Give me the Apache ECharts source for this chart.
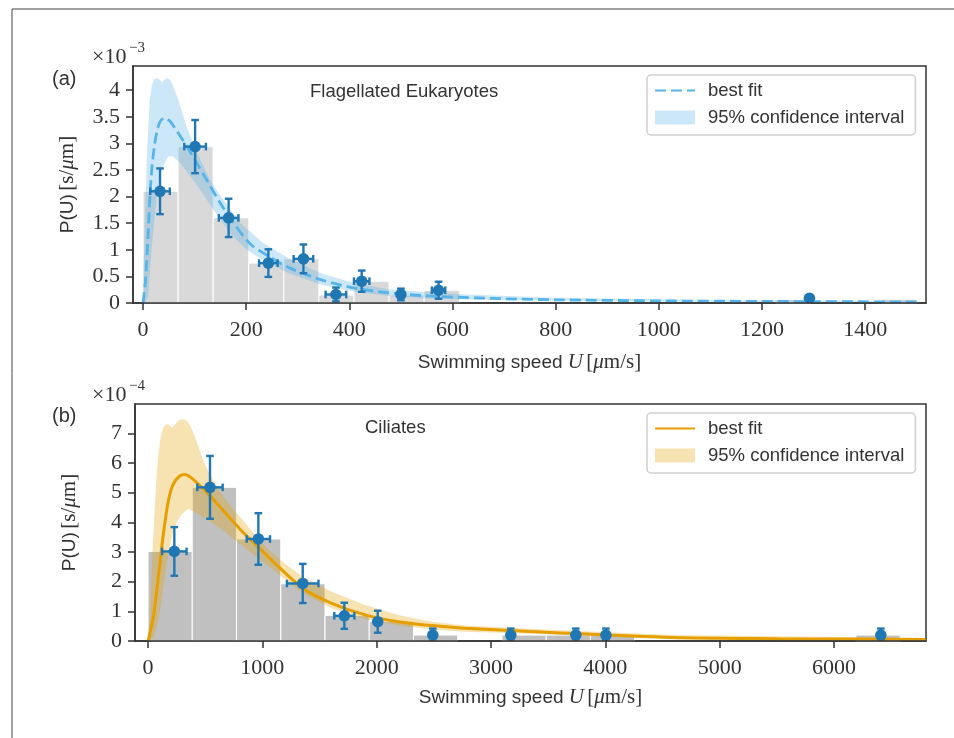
<!DOCTYPE html>
<html>
<head>
<meta charset="utf-8">
<script src="https://cdn.jsdelivr.net/npm/echarts@6.0.0/dist/echarts.min.js"></script>
<style>
  html, body { margin: 0; background: #fff; }
  #chart { width: 954px; height: 738px; }
</style>
</head>
<body>
<div id="chart"></div>
<script>
// (a) flagellated eukaryotes, P(U) in units of 1e-3 s/um
const binEdgesA = [0, 68, 136, 205, 273, 341, 409, 477, 545, 614, 682, 750, 818, 886, 955, 1023, 1091, 1159, 1227, 1295, 1364, 1432, 1500];
const binHeightsA = [2.10, 2.94, 1.60, 0.75, 0.83, 0.15, 0.41, 0.15, 0.24, 0, 0, 0, 0, 0, 0, 0, 0, 0, 0.07, 0, 0, 0.07];
const ptsXA = [33, 101, 166, 243, 311, 374, 424, 500, 573, 1292];
const ptsYA = [2.10, 2.94, 1.60, 0.75, 0.83, 0.16, 0.41, 0.16, 0.24, 0.09];
const ptsXErrA = [19, 21, 19, 18, 19, 20, 15, 0, 13, 0];
const ptsYErrA = [0.43, 0.50, 0.36, 0.26, 0.27, 0.13, 0.20, 0.11, 0.16, 0.04];
const fitXA = [0, 5, 10, 16, 23, 32, 42, 52, 61, 78, 100, 123, 149, 175, 207, 230, 282, 347, 411, 476, 540, 605, 700, 800, 1000, 1200, 1500];
const fitYA = [0, 0.45, 1.32, 2.39, 3.01, 3.39, 3.48, 3.42, 3.30, 3.05, 2.70, 2.32, 1.89, 1.51, 1.12, 0.96, 0.67, 0.43, 0.28, 0.19, 0.14, 0.11, 0.08, 0.06, 0.04, 0.03, 0.02];
const bandHiXA = [0, 3, 8, 13, 17, 21, 27, 32, 37, 42, 46, 52, 57, 68, 84, 103, 129, 155, 188, 233, 282, 347, 411, 476, 540, 605, 800, 1000, 1200, 1500];
const bandHiA = [0, 1.32, 2.89, 3.83, 4.08, 4.20, 4.23, 4.20, 4.15, 4.20, 4.23, 4.20, 4.11, 3.83, 3.33, 2.86, 2.33, 1.95, 1.51, 1.13, 0.84, 0.55, 0.37, 0.26, 0.21, 0.17, 0.10, 0.07, 0.05, 0.04];
const bandLoXA = [0, 5, 10, 16, 26, 36, 49, 58, 71, 91, 110, 136, 168, 200, 230, 282, 347, 411, 476, 540, 605, 800, 1000, 1200, 1500];
const bandLoA = [0, 0.02, 0.12, 0.95, 1.95, 2.51, 2.76, 2.76, 2.64, 2.39, 2.14, 1.76, 1.32, 1.01, 0.82, 0.56, 0.34, 0.21, 0.13, 0.09, 0.07, 0.04, 0.03, 0.02, 0.01];
const xTicksA = [0, 200, 400, 600, 800, 1000, 1200, 1400];
const yTicksA = [0, 0.5, 1, 1.5, 2, 2.5, 3, 3.5, 4];

// (b) ciliates, P(U) in units of 1e-4 s/um
const binEdgesB = [0, 387, 774, 1161, 1548, 1935, 2322, 2709, 3096, 3483, 3870, 4257, 4644, 5031, 5418, 5805, 6192, 6579];
const binHeightsB = [3.02, 5.18, 3.44, 1.93, 0.86, 0.67, 0.20, 0, 0.20, 0.20, 0.20, 0, 0, 0, 0, 0, 0.20];
const ptsXB = [230, 542, 965, 1353, 1717, 2009, 2491, 3173, 3742, 4005, 6410];
const ptsYB = [3.02, 5.18, 3.44, 1.94, 0.85, 0.65, 0.20, 0.20, 0.20, 0.20, 0.20];
const ptsXErrB = [107, 111, 102, 138, 88, 0, 0, 0, 0, 0, 0];
const ptsYErrB = [0.82, 1.06, 0.87, 0.66, 0.44, 0.37, 0.22, 0.22, 0.22, 0.22, 0.22];
const fitXB = [0, 46, 90, 134, 178, 221, 280, 324, 382, 455, 542, 659, 805, 951, 1067, 1353, 1607, 1899, 2190, 2482, 2773, 3561, 4582, 5500, 6800];
const fitYB = [0, 0.8, 2.15, 3.6, 4.73, 5.29, 5.57, 5.61, 5.49, 5.23, 4.9, 4.39, 3.77, 3.21, 2.78, 1.78, 1.27, 0.88, 0.65, 0.52, 0.43, 0.28, 0.12, 0.08, 0.05];
const bandHiXB = [0, 16, 32, 46, 61, 75, 90, 112, 134, 156, 178, 207, 230, 251, 276, 303, 328, 353, 380, 411, 445, 484, 525, 571, 625, 688, 760, 834, 905, 980, 1067, 1200, 1353, 1607, 1899, 2190, 2482, 2773, 3561, 4582, 6800];
const bandHiB = [0, 0.9, 2.37, 3.6, 4.62, 5.6, 6.3, 6.9, 7.2, 7.3, 7.31, 7.2, 7.28, 7.37, 7.45, 7.48, 7.45, 7.37, 7.18, 6.87, 6.5, 6.08, 5.75, 5.4, 5.05, 4.73, 4.38, 4.05, 3.72, 3.38, 3.04, 2.6, 2.17, 1.66, 1.21, 0.88, 0.65, 0.52, 0.37, 0.2, 0.1];
const bandLoXB = [0, 46, 75, 105, 134, 163, 192, 221, 258, 295, 353, 411, 513, 659, 805, 951, 1067, 1353, 1607, 1899, 2190, 2482, 2773, 3561, 4582, 6800];
const bandLoB = [0, 0.1, 0.45, 1.02, 1.8, 2.6, 3.25, 3.72, 4.05, 4.28, 4.45, 4.34, 4.11, 3.72, 3.27, 2.82, 2.48, 1.61, 1.1, 0.73, 0.52, 0.39, 0.31, 0.22, 0.06, 0.03];
const xTicksB = [0, 1000, 2000, 3000, 4000, 5000, 6000];
const yTicksB = [0, 1, 2, 3, 4, 5, 6, 7];

const POINT_COLOR = '#1f77b4';
const BLUE = '#56B4E9';
const ORANGE = '#E69F00';
const TEXT = '#333';

function pairs(xs, ys) {
  return xs.map((x, i) => [x, ys[i]]);
}

// histogram bars drawn as rectangles between bin edges
function histSeries(idx, edges, heights, color) {
  const data = [];
  heights.forEach((h, i) => {
    if (h > 0) data.push([edges[i], edges[i + 1], h]);
  });
  return {
    type: 'custom', xAxisIndex: idx, yAxisIndex: idx, z: 1, silent: true,
    data: data,
    renderItem: function (params, api) {
      const p0 = api.coord([api.value(0), api.value(2)]);
      const p1 = api.coord([api.value(1), 0]);
      return {
        type: 'rect',
        shape: { x: p0[0], y: p0[1], width: p1[0] - p0[0], height: p1[1] - p0[1] },
        style: { fill: color, stroke: '#fff', lineWidth: 1 }
      };
    }
  };
}

// confidence band as one polygon: upper edge forwards, lower edge backwards
function bandSeries(name, idx, hx, hy, lx, ly, color) {
  return {
    type: 'custom', name: name, xAxisIndex: idx, yAxisIndex: idx, z: 2, silent: true, clip: true,
    itemStyle: { color: color },
    data: [[0, 0]],
    renderItem: function (params, api) {
      const pts = [];
      hx.forEach((x, i) => pts.push(api.coord([x, hy[i]])));
      for (let i = lx.length - 1; i >= 0; i--) pts.push(api.coord([lx[i], ly[i]]));
      return { type: 'polygon', shape: { points: pts }, style: { fill: color } };
    }
  };
}

function errSeries(idx, xs, ys, xe, ye) {
  return {
    type: 'custom', xAxisIndex: idx, yAxisIndex: idx, z: 4, silent: true, clip: true,
    data: xs.map((x, i) => [x, ys[i], xe[i], ye[i]]),
    renderItem: function (params, api) {
      const x = api.value(0), y = api.value(1), dx = api.value(2), dy = api.value(3);
      const c = api.coord([x, y]);
      const t = api.coord([x, y + dy]);
      const b = api.coord([x, y - dy]);
      const st = { stroke: POINT_COLOR, lineWidth: 2.4 };
      const cap = 3.8;
      const kids = [
        { type: 'line', shape: { x1: c[0], y1: t[1], x2: c[0], y2: b[1] }, style: st },
        { type: 'line', shape: { x1: c[0] - cap, y1: t[1], x2: c[0] + cap, y2: t[1] }, style: st },
        { type: 'line', shape: { x1: c[0] - cap, y1: b[1], x2: c[0] + cap, y2: b[1] }, style: st }
      ];
      if (dx > 0) {
        const l = api.coord([x - dx, y]);
        const r = api.coord([x + dx, y]);
        kids.push({ type: 'line', shape: { x1: l[0], y1: c[1], x2: r[0], y2: c[1] }, style: st });
        kids.push({ type: 'line', shape: { x1: l[0], y1: c[1] - cap, x2: l[0], y2: c[1] + cap }, style: st });
        kids.push({ type: 'line', shape: { x1: r[0], y1: c[1] - cap, x2: r[0], y2: c[1] + cap }, style: st });
      }
      kids.push({ type: 'circle', shape: { cx: c[0], cy: c[1], r: 5.8 }, style: { fill: POINT_COLOR } });
      return { type: 'group', children: kids };
    }
  };
}

const nameRich = {
  s: { fontFamily: 'Liberation Sans', fontSize: 19, color: TEXT },
  m: { fontFamily: 'Liberation Serif', fontSize: 21, color: TEXT },
  i: { fontFamily: 'Liberation Serif', fontStyle: 'italic', fontSize: 21, color: TEXT }
};

function plain(v) {
  return String(v);
}

function xAxisOpt(idx, min, max, ticks, gap) {
  return {
    type: 'value', gridIndex: idx, min: min, max: max, z: 10,
    name: '{s|Swimming speed }{i|U} {m|[}{i|μ}{m|m/s]}',
    nameLocation: 'middle', nameGap: gap,
    nameTextStyle: { rich: nameRich },
    splitLine: { show: false },
    axisLine: { show: true, onZero: false, lineStyle: { color: TEXT, width: 1.5 } },
    axisTick: { show: true, length: 7, customValues: ticks, lineStyle: { color: TEXT, width: 1.5 } },
    axisLabel: { customValues: ticks, formatter: plain, margin: 16, color: TEXT, fontFamily: 'Liberation Serif', fontSize: 22 }
  };
}

function yAxisOpt(idx, max, ticks) {
  return {
    type: 'value', gridIndex: idx, min: 0, max: max, z: 10,
    name: '{s|P(U)} {m|[s/}{i|μ}{m|m]}',
    nameLocation: 'middle', nameGap: 55,
    nameTextStyle: { rich: nameRich },
    splitLine: { show: false },
    axisLine: { show: true, onZero: false, lineStyle: { color: TEXT, width: 1.5 } },
    axisTick: { show: true, length: 7, customValues: ticks, lineStyle: { color: TEXT, width: 1.5 } },
    axisLabel: { customValues: ticks, formatter: plain, margin: 13, color: TEXT, fontFamily: 'Liberation Serif', fontSize: 22 }
  };
}

function legendOpt(top, suffix) {
  return {
    left: 647, top: top, orient: 'vertical', selectedMode: false,
    data: [
      { name: 'best fit|' + suffix, itemStyle: { opacity: 0 } },
      { name: '95% confidence interval|' + suffix, icon: 'rect' }
    ],
    itemWidth: 40, itemHeight: 14, itemGap: 8,
    padding: [6, 11, 8, 7],
    backgroundColor: 'rgba(255,255,255,0.85)',
    borderColor: '#cfcfcf', borderWidth: 1.5, borderRadius: 4,
    formatter: function (n) { return n.split('|')[0]; },
    textStyle: { fontFamily: 'Liberation Sans', fontSize: 18.5, color: TEXT, padding: [0, 0, 0, 8] }
  };
}

function label(x, y, text, size, family) {
  return {
    type: 'text', x: x, y: y, z: 20,
    style: { text: text, fontSize: size, fontFamily: family, fill: TEXT, verticalAlign: 'middle', align: 'left' }
  };
}

const chart = echarts.init(document.getElementById('chart'));
chart.setOption({
  animation: false,
  backgroundColor: '#fff',
  grid: [
    { left: 133, top: 66, width: 793, height: 237, show: true, borderColor: TEXT, borderWidth: 1.5, backgroundColor: 'transparent' },
    { left: 135, top: 404, width: 791, height: 237, show: true, borderColor: TEXT, borderWidth: 1.5, backgroundColor: 'transparent' }
  ],
  xAxis: [xAxisOpt(0, -19.4, 1518, xTicksA, 49), xAxisOpt(1, -114, 6805, xTicksB, 46)],
  yAxis: [yAxisOpt(0, 4.455, yTicksA), yAxisOpt(1, 7.99, yTicksB)],
  legend: [legendOpt(75, 'a'), legendOpt(413, 'b')],
  graphic: [
    { type: 'line', shape: { x1: 12, y1: 9, x2: 954, y2: 9 }, style: { stroke: '#444', lineWidth: 1 } },
    { type: 'line', shape: { x1: 12, y1: 9, x2: 12, y2: 738 }, style: { stroke: '#444', lineWidth: 1 } },
    label(52, 79, '(a)', 20, 'Liberation Sans'),
    label(52, 416, '(b)', 20, 'Liberation Sans'),
    label(310, 92, 'Flagellated Eukaryotes', 18.5, 'Liberation Sans'),
    label(365, 428, 'Ciliates', 18.5, 'Liberation Sans'),
    label(92, 57, '×10', 22, 'Liberation Serif'),
    label(129, 48, '−3', 15, 'Liberation Serif'),
    label(92, 395, '×10', 22, 'Liberation Serif'),
    label(129, 386, '−4', 15, 'Liberation Serif')
  ],
  series: [
    histSeries(0, binEdgesA, binHeightsA, '#d9d9d9'),
    bandSeries('95% confidence interval|a', 0, bandHiXA, bandHiA, bandLoXA, bandLoA, 'rgba(86,180,233,0.3)'),
    {
      type: 'line', name: 'best fit|a', xAxisIndex: 0, yAxisIndex: 0, z: 3,
      data: pairs(fitXA, fitYA), symbol: 'none', smooth: 0.3, silent: true,
      itemStyle: { color: BLUE },
      lineStyle: { color: BLUE, width: 2.8, type: [11, 5] }
    },
    errSeries(0, ptsXA, ptsYA, ptsXErrA, ptsYErrA),

    histSeries(1, binEdgesB, binHeightsB, '#c0c0c0'),
    bandSeries('95% confidence interval|b', 1, bandHiXB, bandHiB, bandLoXB, bandLoB, 'rgba(230,159,0,0.3)'),
    {
      type: 'line', name: 'best fit|b', xAxisIndex: 1, yAxisIndex: 1, z: 3,
      data: pairs(fitXB, fitYB), symbol: 'none', smooth: 0.3, silent: true,
      itemStyle: { color: ORANGE },
      lineStyle: { color: ORANGE, width: 3 }
    },
    errSeries(1, ptsXB, ptsYB, ptsXErrB, ptsYErrB)
  ]
});
</script>
</body>
</html>
